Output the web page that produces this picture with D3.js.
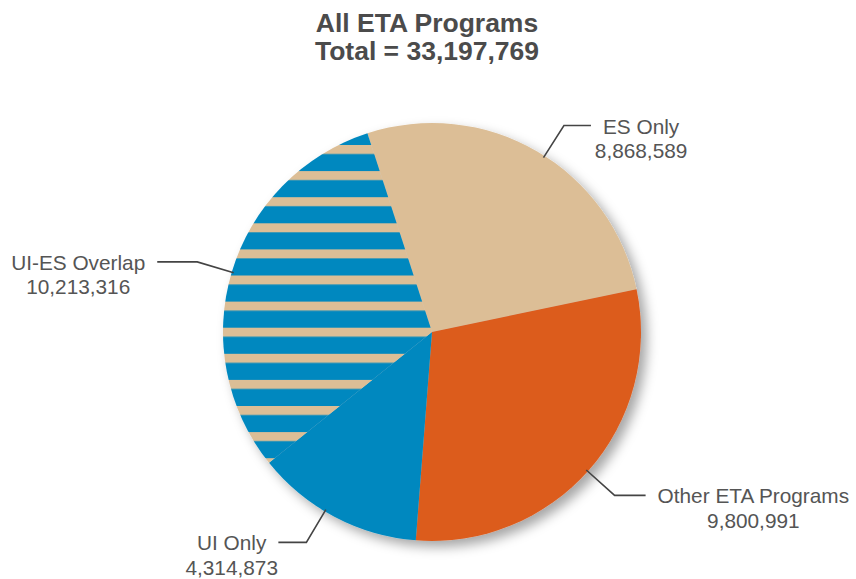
<!DOCTYPE html>
<html><head><meta charset="utf-8">
<script src="https://cdn.jsdelivr.net/npm/d3@7"></script>
<style>body{margin:0;background:#fff}svg{display:block}</style>
</head><body>
<svg id="chart" width="856" height="579"></svg>
<script>
const titleLines = ["All ETA Programs", "Total = 33,197,769"];
const categories = ["ES Only", "Other ETA Programs", "UI Only", "UI-ES Overlap"];
const values = [8868589, 9800991, 4314873, 10213316];
const valueLabels = ["8,868,589", "9,800,991", "4,314,873", "10,213,316"];
const colors = ["#DCBE96", "#DC5C1E", "#0088BF", "url(#stripes)"];
const leaderShift = [2.5, 0.5, 3, 0]; // degrees
const leaderLen = [27, 31, 28, 40];

const W = 856, H = 579, cx = 432, cy = 332, R = 209;
const svg = d3.select("#chart");
const defs = svg.append("defs");

const pat = defs.append("pattern").attr("id", "stripes")
  .attr("patternUnits", "userSpaceOnUse")
  .attr("x", 0).attr("y", 145 - cy).attr("width", 20).attr("height", 26.1);
pat.append("rect").attr("width", 20).attr("height", 26.1).attr("fill", "#0088BF");
pat.append("rect").attr("width", 20).attr("height", 9).attr("fill", "#DCBE96");

const f = defs.append("filter").attr("id", "shadow")
  .attr("x", "-20%").attr("y", "-20%").attr("width", "140%").attr("height", "140%");
f.append("feDropShadow").attr("dx", 6).attr("dy", 6).attr("stdDeviation", 6)
  .attr("flood-color", "#000").attr("flood-opacity", 0.35);

svg.append("g").selectAll("text").data(titleLines).join("text")
  .attr("x", 427).attr("y", (d, i) => 31.5 + i * 28.5)
  .attr("text-anchor", "middle")
  .attr("font-family", "'Liberation Sans', Arial, sans-serif")
  .attr("font-weight", "bold").attr("font-size", 26.5)
  .attr("fill", "#4b4b4b").text(d => d);

const start = -18 * Math.PI / 180;
const pie = d3.pie().sort(null).startAngle(start).endAngle(start + 2 * Math.PI);
const arcs = pie(values);
const arc = d3.arc().innerRadius(0).outerRadius(R);

const g = svg.append("g").attr("transform", `translate(${cx},${cy})`);
const slices = g.append("g").attr("filter", "url(#shadow)");
slices.selectAll("path").data(arcs).join("path")
  .attr("d", arc).attr("fill", (d, i) => colors[i]);

// leader lines and labels
const pt = (a, r) => [Math.sin(a) * r, -Math.cos(a) * r];
const lab = svg.append("g");
arcs.forEach((d, i) => {
  const mid = (d.startAngle + d.endAngle) / 2 + leaderShift[i] * Math.PI / 180;
  const p0 = pt(mid, R - 2), p1 = pt(mid, 245);
  const right = p1[0] > 0;
  const p2 = [p1[0] + (right ? leaderLen[i] : -leaderLen[i]), p1[1]];
  g.append("polyline")
    .attr("points", [p0, p1, p2].map(p => p.join(",")).join(" "))
    .attr("fill", "none").attr("stroke", "#444").attr("stroke-width", 1.6);
  const t = lab.append("text")
    .attr("font-family", "'Liberation Sans', Arial, sans-serif")
    .attr("font-size", 20.8).attr("fill", "#555").attr("text-anchor", "middle");
  const spans = [categories[i], valueLabels[i]].map((s, k) =>
    t.append("tspan").attr("x", 0).attr("y", k * 24.5).text(s));
  const w1 = spans[0].node().getComputedTextLength();
  const tx = cx + p2[0] + (right ? 12 + w1 / 2 : -12 - w1 / 2);
  const ty = cy + p2[1] + 8;
  t.attr("transform", `translate(${tx},${ty})`);
});
</script>
</body></html>
